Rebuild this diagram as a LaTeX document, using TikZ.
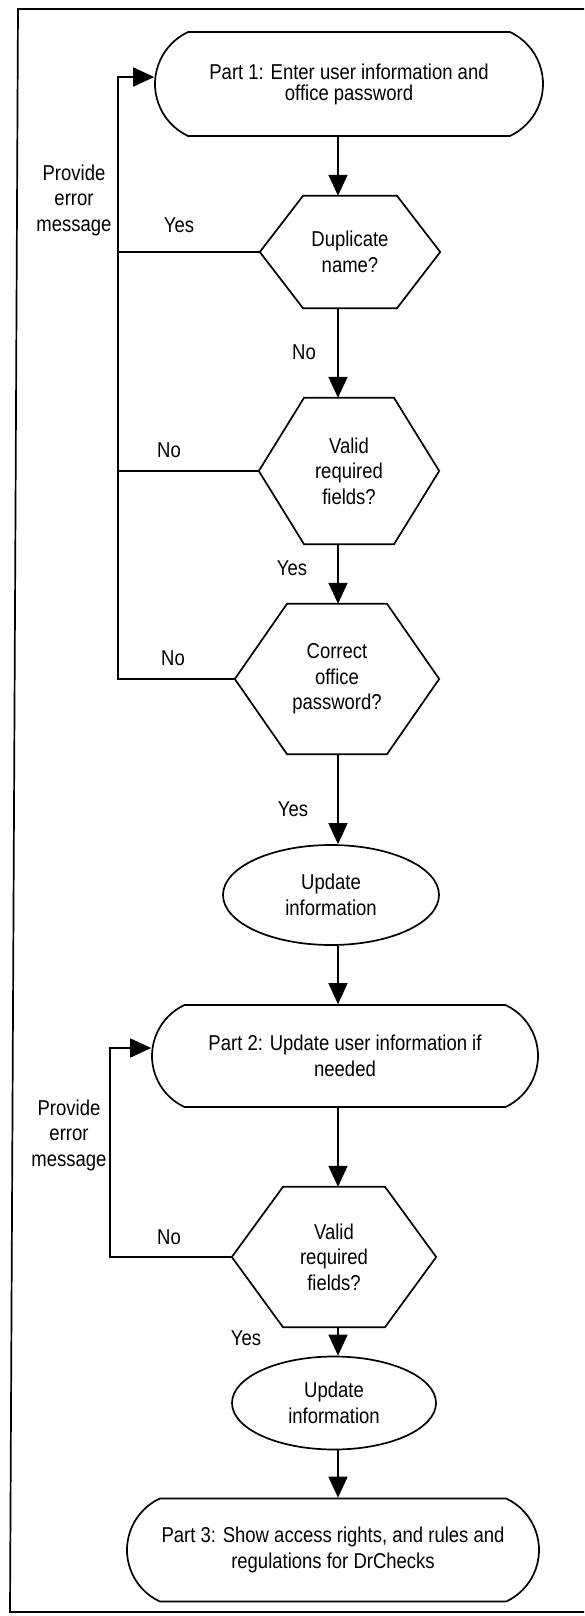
\documentclass[tikz,border=0pt]{standalone}
\usepackage{fontspec}
\setmainfont{Liberation Sans}[FakeStretch=0.86]
\usetikzlibrary{shapes.misc,shapes.geometric,arrows.meta}
\newcommand{\hexshape}[2]{\draw[ln] ([xshift=-#2]#1.north) -- ([xshift=#2]#1.north) -- (#1.east) -- ([xshift=#2]#1.south) -- ([xshift=-#2]#1.south) -- (#1.west) -- cycle;}
\begin{document}
\begin{tikzpicture}[x=1pt,y=-1pt,
  every node/.style={font=\fontsize{21.5}{25.5}\selectfont, inner sep=0pt},
  ln/.style={line width=1.7pt},
  arr/.style={ln,-{Triangle[length=21pt,width=19pt]}},
  term/.style={draw,ln,rounded rectangle,rounded rectangle arc length=130,align=center},
  hexbox/.style={align=center},
  oval/.style={draw,ln,ellipse,align=center},
  lbl/.style={align=center}]
\useasboundingbox (0,0) rectangle (584,1616);
\draw[ln] (584,9) -- (18,9) -- (10,1612) -- (584,1612);

\node[term,minimum width=388pt,minimum height=104pt,font=\fontsize{21.5}{21}\selectfont] (p1) at (349,84) {Part 1: Enter user information and\\office password};
\node[hexbox,minimum width=180pt,minimum height=112pt] (h1) at (350,252) {Duplicate\\name?};
\hexshape{h1}{47pt}
\node[hexbox,minimum width=180pt,minimum height=146pt] (h2) at (349,471) {Valid\\required\\fields?};
\hexshape{h2}{45pt}
\node[hexbox,minimum width=204pt,minimum height=150pt] (h3) at (337,679) {Correct\\office\\password?};
\hexshape{h3}{50pt}
\node[oval,minimum width=216pt,minimum height=100pt] (e1) at (331,895) {Update\\information};
\node[term,minimum width=386pt,minimum height=102pt] (p2) at (345,1056) {Part 2: Update user information if\\needed};
\node[hexbox,minimum width=204pt,minimum height=140pt] (h4) at (334,1257) {Valid\\required\\fields?};
\hexshape{h4}{51pt}
\node[oval,minimum width=204pt,minimum height=93pt] (e2) at (334,1403) {Update\\information};
\node[term,minimum width=412pt,minimum height=103pt] (p3) at (333,1550) {Part 3: Show access rights, and rules and\\regulations for DrChecks};

\coordinate (ax) at (338,0);
\draw[arr] (p1.south -| ax) -- (h1.north -| ax);
\draw[arr] (h1.south -| ax) -- (h2.north -| ax);
\draw[arr] (h2.south -| ax) -- (h3.north -| ax);
\draw[arr] (h3.south -| ax) -- (e1.north -| ax);
\draw[arr] (e1.south -| ax) -- (p2.north -| ax);
\draw[arr] (p2.south -| ax) -- (h4.north -| ax);
\draw[arr] (h4.south -| ax) -- (e2.north -| ax);
\draw[arr] (e2.south -| ax) -- (p3.north -| ax);

\coordinate (fb1) at (118,77);
\draw[ln] (h1.west) -- (h1.west -| fb1);
\draw[ln] (h2.west) -- (h2.west -| fb1);
\draw[arr] (h3.west) -| (fb1) -- (fb1 -| p1.west);
\coordinate (fb2) at (110,1048);
\draw[arr] (h4.west) -| (fb2) -- (fb2 -| p2.west);

\node[lbl] (pem1) at (74,200) {Provide\\error\\message};
\node[lbl] (pem2) at (69,1135) {Provide\\error\\message};
\node (y1) at (179,225) {Yes};
\node (n1) at (304,352) {No};
\node (n2) at (169,450) {No};
\node (y2) at (292,568) {Yes};
\node (n3) at (173,658) {No};
\node (y3) at (293,809) {Yes};
\node (n4) at (169,1237) {No};
\node (y4) at (246,1338) {Yes};
\end{tikzpicture}
\end{document}
